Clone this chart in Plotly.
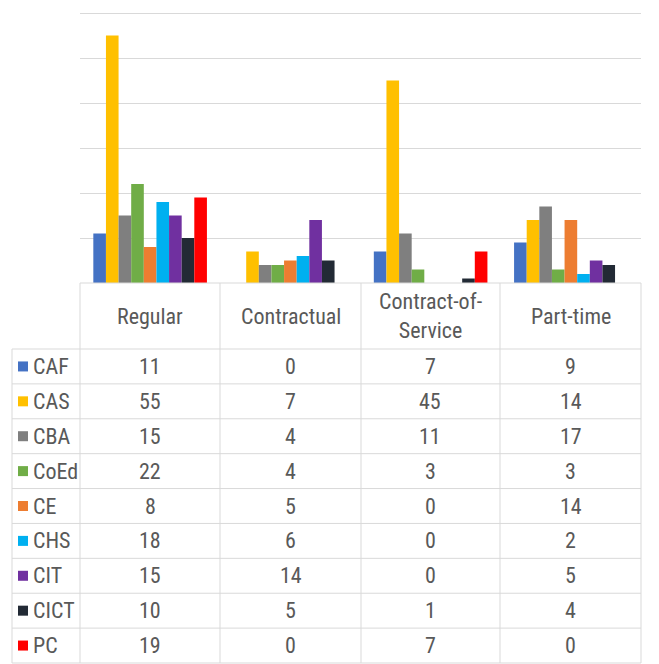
import plotly.graph_objects as go

categories = ["Regular", "Contractual", "Contract-of-Service", "Part-time"]
colleges = ["CAF", "CAS", "CBA", "CoEd", "CE", "CHS", "CIT", "CICT", "PC"]
colors = ["#4472C4", "#FFC000", "#7F7F7F", "#70AD47", "#ED7D31",
          "#00B0F0", "#7030A0", "#222A35", "#FF0000"]

caf = [11, 0, 7, 9]
cas = [55, 7, 45, 14]
cba = [15, 4, 11, 17]
coed = [22, 4, 3, 3]
ce = [8, 5, 0, 14]
chs = [18, 6, 0, 2]
cit = [15, 14, 0, 5]
cict = [10, 5, 1, 4]
pc = [19, 0, 7, 0]
values = [caf, cas, cba, coed, ce, chs, cit, cict, pc]

# the page body has an 8px margin, so the figure is drawn 8px in from the corner
OFF = 8
W, H = 659 - OFF, 664 - OFF
FONT = "Roboto Condensed, DejaVu Sans Condensed, Roboto, sans-serif"
FS = 22
TXT = "#595959"
GRID = "#D9D9D9"

def px(x):
    return (x - OFF) / W

def py(y):
    return 1 - (y - OFF) / H

# table geometry (page pixels)
col_x = [80, 220, 361, 500, 641]
left_x = 12
top_y = 283
header_bottom = 349
bottom_y = 663
row_h = (bottom_y - header_bottom) / len(colleges)

fig = go.Figure()
for name, vals, c in zip(colleges, values, colors):
    fig.add_trace(go.Bar(x=categories, y=vals, name=name, marker_color=c,
                         marker_line_width=0, showlegend=False))

shapes = []
line = dict(color=GRID, width=1)
# horizontal table lines
shapes.append(dict(type="line", xref="paper", yref="paper", x0=px(col_x[0]), x1=px(col_x[-1]),
                   y0=py(top_y), y1=py(top_y), line=line))
for i in range(len(colleges) + 1):
    y = header_bottom + i * row_h
    shapes.append(dict(type="line", xref="paper", yref="paper", x0=px(left_x), x1=px(col_x[-1]),
                       y0=py(y), y1=py(y), line=line))
# vertical table lines
for x in col_x:
    shapes.append(dict(type="line", xref="paper", yref="paper", x0=px(x), x1=px(x),
                       y0=py(top_y), y1=py(bottom_y), line=line))
shapes.append(dict(type="line", xref="paper", yref="paper", x0=px(left_x), x1=px(left_x),
                   y0=py(header_bottom), y1=py(bottom_y), line=line))
# legend keys
for i, c in enumerate(colors):
    yc = header_bottom + (i + 0.5) * row_h
    shapes.append(dict(type="rect", xref="paper", yref="paper", x0=px(18), x1=px(28),
                       y0=py(yc + 5), y1=py(yc - 5), fillcolor=c, line_width=0))
# right frame edge of the screenshot
shapes.append(dict(type="line", xref="paper", yref="paper", x0=px(652), x1=px(652),
                   y0=0, y1=1, line=dict(color="#2B3550", width=2)))

annotations = []
for j, cat in enumerate(categories):
    xc = (col_x[j] + col_x[j + 1]) / 2
    annotations.append(dict(xref="paper", yref="paper", x=px(xc), y=py((top_y + header_bottom) / 2),
                            text=cat.replace("of-", "of-<br>"), showarrow=False,
                            font=dict(family=FONT, size=FS, color=TXT),
                            xanchor="center", yanchor="middle"))
for i, (name, vals) in enumerate(zip(colleges, values)):
    yc = header_bottom + (i + 0.5) * row_h
    annotations.append(dict(xref="paper", yref="paper", x=px(31), y=py(yc), text=name,
                            showarrow=False, font=dict(family=FONT, size=FS, color=TXT),
                            xanchor="left", yanchor="middle"))
    for j, v in enumerate(vals):
        xc = (col_x[j] + col_x[j + 1]) / 2
        annotations.append(dict(xref="paper", yref="paper", x=px(xc), y=py(yc), text=str(v),
                                showarrow=False, font=dict(family=FONT, size=FS, color=TXT),
                                xanchor="center", yanchor="middle"))

fig.update_layout(
    width=W, height=H,
    margin=dict(l=0, r=0, t=0, b=0),
    paper_bgcolor="white", plot_bgcolor="white",
    barmode="group", bargap=0.19, bargroupgap=0,
    xaxis=dict(domain=[px(col_x[0]), px(col_x[-1])], showticklabels=False,
               showgrid=False, zeroline=False, showline=False, ticks=""),
    yaxis=dict(domain=[py(top_y), py(283 - 270 * 61 / 60)], range=[0, 61], dtick=10,
               showticklabels=False, showgrid=True, gridcolor=GRID, gridwidth=1,
               zeroline=False, showline=False),
    shapes=shapes, annotations=annotations,
)

fig.write_html("out.html")
